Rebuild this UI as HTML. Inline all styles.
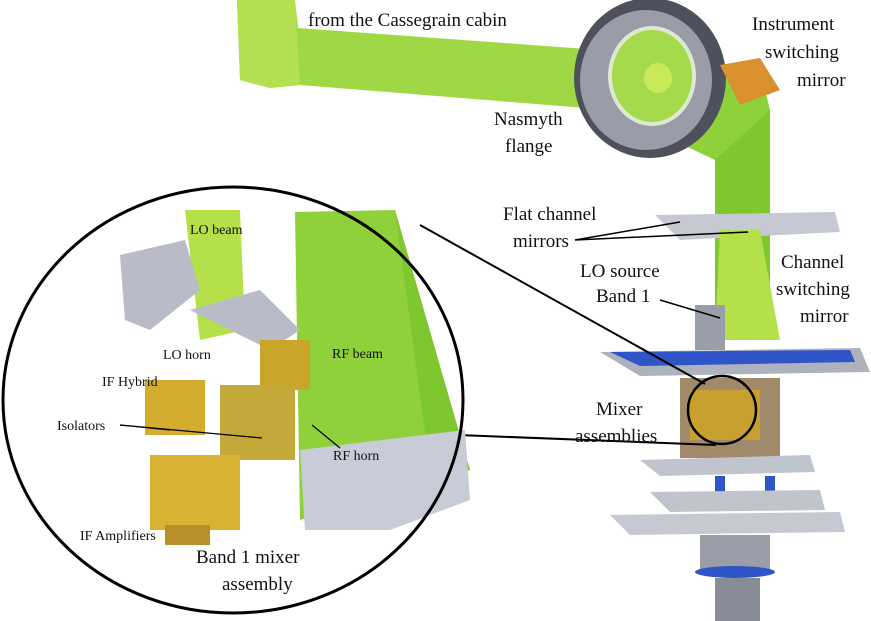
<!DOCTYPE html>
<html><head><meta charset="utf-8"><style>
html,body{margin:0;padding:0;background:#fff;}
svg{display:block;}
text{font-family:"Liberation Serif",serif;fill:#111;}
</style></head><body>
<svg width="871" height="621" viewBox="0 0 871 621" xmlns="http://www.w3.org/2000/svg">
<rect width="871" height="621" fill="#fff"/>
<!-- top beam -->
<polygon points="237,0 295,0 298,28 600,50 610,110 300,85 270,88 240,80" fill="#a0d845"/>
<polygon points="237,0 295,0 300,85 270,88 240,80" fill="#b2e050"/>
<polygon points="600,50 760,70 770,110 770,340 715,340 715,160 610,110" fill="#8ed13a"/>
<polygon points="715,160 770,110 770,340 715,340" fill="#7fc72e"/>
<!-- ring -->
<ellipse cx="650" cy="78" rx="76" ry="80" fill="#4e515b"/>
<ellipse cx="646" cy="80" rx="66" ry="70" fill="#9a9da8"/>
<ellipse cx="652" cy="76" rx="44" ry="50" fill="#dfe8d0"/>
<ellipse cx="652" cy="76" rx="40" ry="46" fill="#a4da4c"/>
<ellipse cx="658" cy="78" rx="14" ry="15" fill="#c8ea5a"/>
<polygon points="720,65 760,58 780,90 740,105" fill="#d9902e"/>
<!-- right machinery -->
<polygon points="655,215 835,212 840,232 680,240" fill="#c6c9d2"/>
<polygon points="720,230 760,230 780,340 715,340" fill="#b4e04a"/>
<polygon points="600,352 860,348 870,372 640,376" fill="#aeb2bd"/>
<polygon points="610,352 850,350 855,362 640,366" fill="#2f55c8"/>
<rect x="695" y="305" width="30" height="45" fill="#9a9ea8"/>
<rect x="680" y="378" width="100" height="80" fill="#a08a6a"/>
<rect x="690" y="390" width="70" height="50" fill="#c8a030"/>
<polygon points="640,460 810,455 815,472 660,476" fill="#c0c4cc"/>
<rect x="715" y="476" width="10" height="20" fill="#2f55c8"/>
<rect x="765" y="476" width="10" height="20" fill="#2f55c8"/>
<polygon points="650,492 820,490 825,510 670,512" fill="#c0c4cc"/>
<polygon points="610,515 840,512 845,532 630,535" fill="#c6c9d2"/>
<rect x="700" y="535" width="70" height="35" fill="#9a9ea8"/>
<ellipse cx="735" cy="572" rx="40" ry="6" fill="#2f55c8"/>
<rect x="715" y="578" width="45" height="43" fill="#888c96"/>
<circle cx="722" cy="410" r="34" fill="none" stroke="#000" stroke-width="2.5"/>
<!-- connector lines -->
<line x1="420" y1="225" x2="705" y2="384" stroke="#000" stroke-width="2"/>
<line x1="458" y1="435" x2="716" y2="445" stroke="#000" stroke-width="2"/>
<line x1="575" y1="240" x2="680" y2="222" stroke="#000" stroke-width="1.5"/>
<line x1="575" y1="240" x2="748" y2="232" stroke="#000" stroke-width="1.5"/>
<line x1="660" y1="300" x2="720" y2="318" stroke="#000" stroke-width="1.5"/>
<!-- big ellipse content -->
<polygon points="295,212 395,210 470,470 300,520" fill="#8ed13a"/>
<polygon points="395,210 430,470 470,470" fill="#7fc72e"/>
<polygon points="300,450 465,430 470,500 390,530 305,530" fill="#c8ccd6"/>
<polygon points="185,210 240,210 245,330 200,340" fill="#b4e04a"/>
<polygon points="120,255 185,240 200,290 150,330 125,320" fill="#b9bcc6"/>
<polygon points="190,310 260,290 300,330 270,350" fill="#b9bcc6"/>
<rect x="260" y="340" width="50" height="50" fill="#c9a52a"/>
<rect x="220" y="385" width="75" height="75" fill="#c4a83a"/>
<rect x="145" y="380" width="60" height="55" fill="#d4ad2e"/>
<rect x="150" y="455" width="90" height="75" fill="#d8b232"/>
<rect x="165" y="525" width="45" height="20" fill="#b8902a"/>
<ellipse cx="233" cy="400" rx="230" ry="213" fill="none" stroke="#000" stroke-width="3"/>
<line x1="120" y1="425" x2="170" y2="430" stroke="#000" stroke-width="1.2"/>
<line x1="120" y1="425" x2="262" y2="438" stroke="#000" stroke-width="1.2"/>
<line x1="312" y1="425" x2="340" y2="448" stroke="#000" stroke-width="1.2"/>
<!-- labels -->
<text x="308" y="26" font-size="19">from the Cassegrain cabin</text>
<text x="752" y="30" font-size="19">Instrument</text>
<text x="765" y="58" font-size="19">switching</text>
<text x="797" y="86" font-size="19">mirror</text>
<text x="494" y="125" font-size="19">Nasmyth</text>
<text x="505" y="152" font-size="19">flange</text>
<text x="503" y="220" font-size="19">Flat channel</text>
<text x="513" y="247" font-size="19">mirrors</text>
<text x="580" y="277" font-size="19">LO source</text>
<text x="596" y="302" font-size="19">Band 1</text>
<text x="781" y="268" font-size="19">Channel</text>
<text x="776" y="295" font-size="19">switching</text>
<text x="800" y="322" font-size="19">mirror</text>
<text x="596" y="415" font-size="19">Mixer</text>
<text x="575" y="442" font-size="19">assemblies</text>
<text x="190" y="234" font-size="14">LO beam</text>
<text x="163" y="359" font-size="14">LO horn</text>
<text x="332" y="358" font-size="14">RF beam</text>
<text x="102" y="386" font-size="14">IF Hybrid</text>
<text x="57" y="430" font-size="14">Isolators</text>
<text x="333" y="460" font-size="14">RF horn</text>
<text x="80" y="540" font-size="14">IF Amplifiers</text>
<text x="196" y="563" font-size="19">Band 1 mixer</text>
<text x="222" y="590" font-size="19">assembly</text>
</svg>
</body></html>
